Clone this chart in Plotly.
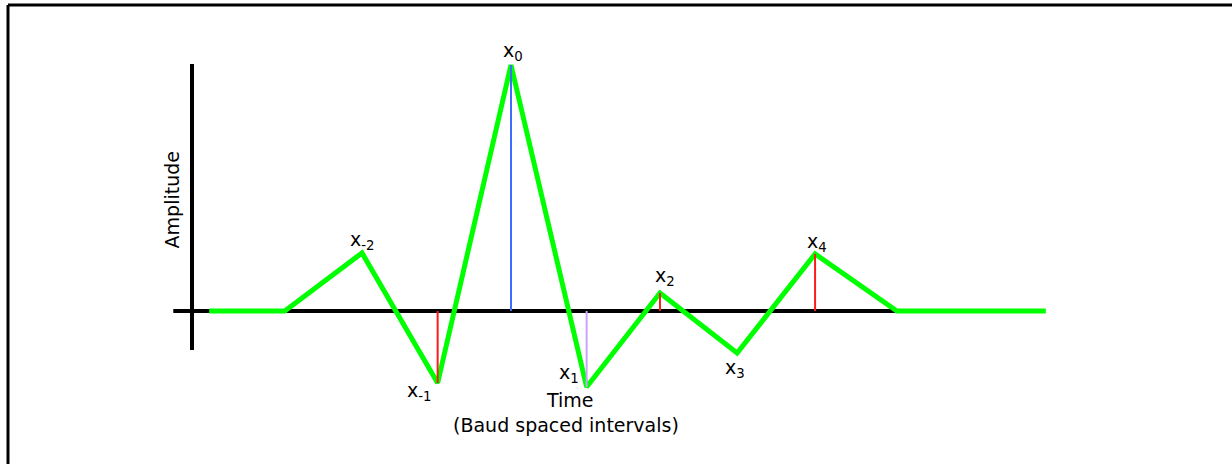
import plotly.graph_objects as go

# Pulse response sampled at baud-spaced intervals (time in baud units, amplitude normalised to x0)
pulse_time = [-3.95, -2.96, -1.95, -0.96, 0.0, 0.99, 1.95, 2.96, 3.98, 5.05, 7.0]
pulse_amp = [0.0, 0.0, 0.236, -0.293, 1.0, -0.309, 0.073, -0.171, 0.232, 0.0, 0.0]

# Sample instants marked with labels
sample_names = ["x<sub>-2</sub>", "x<sub>-1</sub>", "x<sub>0</sub>", "x<sub>1</sub>",
                "x<sub>2</sub>", "x<sub>3</sub>", "x<sub>4</sub>"]
sample_time = [-1.95, -0.96, 0.0, 0.99, 1.95, 2.96, 3.98]
sample_amp = [0.236, -0.293, 1.0, -0.309, 0.073, -0.171, 0.232]

# Stems drawn for selected samples: time, amplitude, colour
stem_time = [-0.96, 0.0, 0.99, 1.95, 3.98]
stem_amp = [-0.293, 1.0, -0.309, 0.073, 0.232]
stem_color = ["#ff1a1a", "#3d6cff", "#c9a3ff", "#ff1a1a", "#ff1a1a"]

# Label offsets (pixels) relative to each sample point
label_dx = [0, -18, 2, -18, 5, -2, 2]
label_dy = [12, -8, 13, 13, 17, -15, 11]

FONT = "DejaVu Sans"

fig = go.Figure()

# Time axis and amplitude axis
fig.add_trace(go.Scatter(x=[-4.42, 5.05], y=[0, 0], mode="lines",
                         line=dict(color="black", width=4), hoverinfo="skip"))
fig.add_trace(go.Scatter(x=[-4.175, -4.175], y=[1.004, -0.159], mode="lines",
                         line=dict(color="black", width=4), hoverinfo="skip"))

# Pulse shape
fig.add_trace(go.Scatter(x=pulse_time, y=pulse_amp, mode="lines",
                         line=dict(color="#00ff00", width=5), hoverinfo="skip"))

# Stems at the sampling instants
for t, a, c in zip(stem_time, stem_amp, stem_color):
    fig.add_trace(go.Scatter(x=[t, t], y=[0, a], mode="lines",
                             line=dict(color=c, width=2), hoverinfo="skip"))

# Sample labels
for name, t, a, dx, dy in zip(sample_names, sample_time, sample_amp, label_dx, label_dy):
    fig.add_annotation(x=t, y=a, text=name, showarrow=False,
                       xanchor="center", yanchor="middle", xshift=dx, yshift=dy,
                       font=dict(family=FONT, size=19, color="black"))

# Axis captions
fig.add_annotation(x=-4.435, y=0.45, text="Amplitude", showarrow=False, textangle=-90,
                   xanchor="center", yanchor="middle",
                   font=dict(family=FONT, size=19, color="black"))
fig.add_annotation(x=0.77, y=-0.363, text="Time", showarrow=False,
                   xanchor="center", yanchor="middle",
                   font=dict(family=FONT, size=19, color="black"))
fig.add_annotation(x=0.72, y=-0.463, text="(Baud spaced intervals)", showarrow=False,
                   xanchor="center", yanchor="middle",
                   font=dict(family=FONT, size=19, color="black"))

# Frame lines along the top and left edges
fig.add_shape(type="line", xref="paper", yref="paper", x0=8 / 1232, x1=1, y0=1 - 5 / 464,
              y1=1 - 5 / 464, line=dict(color="black", width=3))
fig.add_shape(type="line", xref="paper", yref="paper", x0=8 / 1232, x1=8 / 1232,
              y0=0, y1=1 - 5 / 464, line=dict(color="black", width=3))

fig.update_layout(
    width=1232, height=464,
    margin=dict(l=0, r=0, t=0, b=0),
    paper_bgcolor="white", plot_bgcolor="white",
    showlegend=False,
    xaxis=dict(range=[-6.688, 9.437], visible=False, fixedrange=True),
    yaxis=dict(range=[-0.622, 1.264], visible=False, fixedrange=True),
)

fig.write_html("out.html", config={"displayModeBar": False})
